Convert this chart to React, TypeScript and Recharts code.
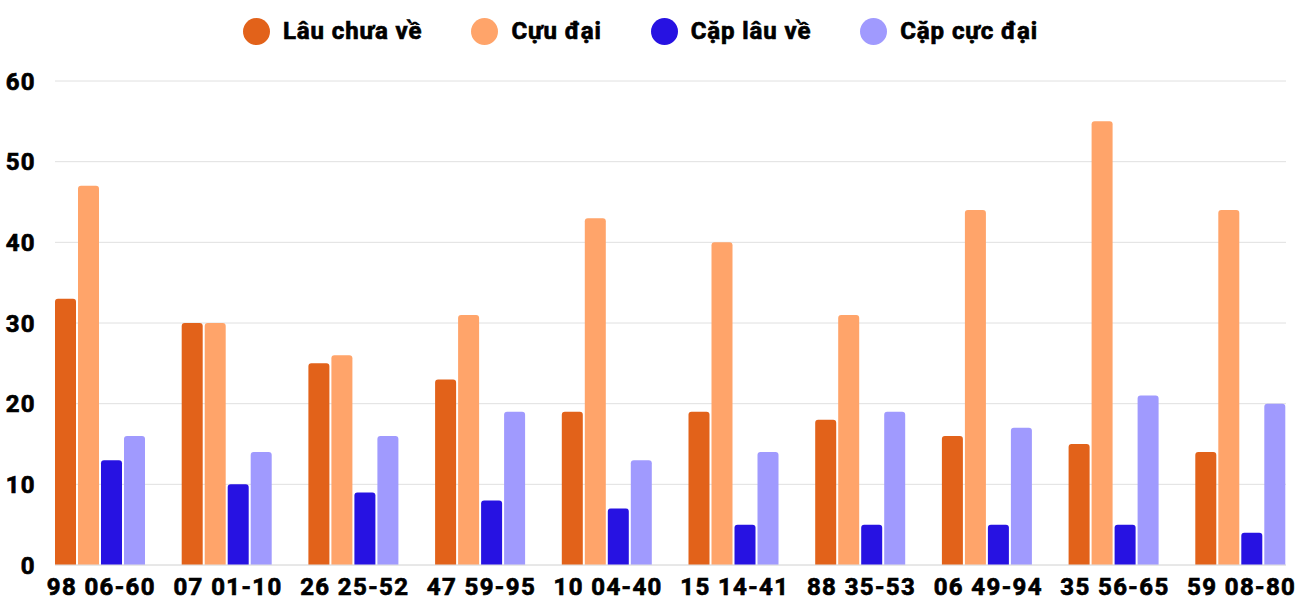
import { BarChart, Bar, XAxis, YAxis, CartesianGrid } from "recharts";

const categories = [
  "98 06-60",
  "07 01-10",
  "26 25-52",
  "47 59-95",
  "10 04-40",
  "15 14-41",
  "88 35-53",
  "06 49-94",
  "35 56-65",
  "59 08-80",
];

const lauChuaVe = [33, 30, 25, 23, 19, 19, 18, 16, 15, 14];
const cucDai = [47, 30, 26, 31, 43, 40, 31, 44, 55, 44];
const capLauVe = [13, 10, 9, 8, 7, 5, 5, 5, 5, 4];
const capCucDai = [16, 14, 16, 19, 13, 14, 19, 17, 21, 20];

const yTicks = [0, 10, 20, 30, 40, 50, 60];

const series = [
  { key: "lau", name: "Lâu chưa về", color: "#E2621A" },
  { key: "cuc", name: "Cựu đại", color: "#FFA46A" },
  { key: "capLau", name: "Cặp lâu về", color: "#2712E2" },
  { key: "capCuc", name: "Cặp cực đại", color: "#A09AFE" },
];

const data = categories.map((name, i) => ({
  name,
  lau: lauChuaVe[i],
  cuc: cucDai[i],
  capLau: capLauVe[i],
  capCuc: capCucDai[i],
}));

const font = "Roboto, sans-serif";
// heavy labels: bold plus a thin outline
const tickStyle = {
  fill: "#000",
  stroke: "#000",
  strokeWidth: 0.7,
  fontFamily: font,
  fontWeight: 700,
  fontSize: 24,
  letterSpacing: 1.4,
};

function LegendRow() {
  return (
    <div
      style={{
        position: "absolute",
        top: 17,
        left: 0,
        width: 1281,
        display: "flex",
        justifyContent: "center",
        gap: 49,
        fontFamily: font,
        fontWeight: 700,
        fontSize: 24,
        letterSpacing: 0.9,
        WebkitTextStroke: "0.7px #000",
        lineHeight: "28px",
        color: "#000",
      }}
    >
      {series.map((s) => (
        <div key={s.key} style={{ display: "flex", alignItems: "center", gap: 13 }}>
          <span
            style={{
              display: "inline-block",
              width: 27,
              height: 27,
              borderRadius: "50%",
              background: s.color,
            }}
          />
          <span>{s.name}</span>
        </div>
      ))}
    </div>
  );
}

export default function App() {
  return (
    <div style={{ position: "absolute", left: 0, top: 0, width: 1300, height: 600, background: "#fff" }}>
      <LegendRow />
      <BarChart
        width={1300}
        height={600}
        data={data}
        margin={{ top: 81, right: 14, bottom: 0, left: 0 }}
        barGap={2}
        barCategoryGap={18}
      >
        <CartesianGrid vertical={false} stroke="#e0e0e0" />
        <XAxis
          dataKey="name"
          height={35}
          padding={{ left: -18, right: -18 }}
          tickLine={false}
          axisLine={{ stroke: "#e0e0e0" }}
          tickSize={0}
          tickMargin={13}
          interval={0}
          tick={{ ...tickStyle, dx: 1 }}
        />
        <YAxis
          width={55}
          domain={[0, 60]}
          ticks={yTicks}
          axisLine={false}
          tickLine={false}
          tickSize={0}
          tickMargin={19}
          tick={tickStyle}
        />
        {series.map((s) => (
          <Bar
            key={s.key}
            dataKey={s.key}
            name={s.name}
            fill={s.color}
            barSize={21}
            radius={[3, 3, 0, 0]}
            isAnimationActive={false}
          />
        ))}
      </BarChart>
    </div>
  );
}
